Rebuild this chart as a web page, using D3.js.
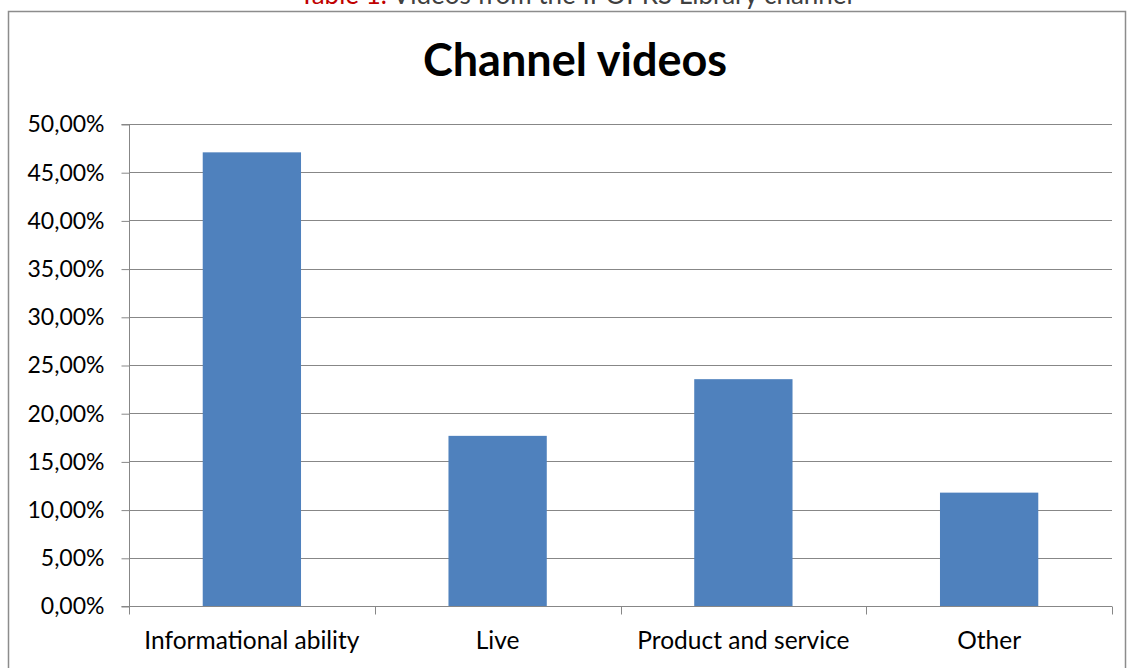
<!DOCTYPE html>
<html><head><meta charset="utf-8">
<script src="https://cdn.jsdelivr.net/npm/d3@7"></script>
<style>body{margin:0;background:#fff}svg{display:block}</style>
</head><body>
<svg id="c" width="1132" height="668"></svg>
<script>
const categories = ["Informational ability", "Live", "Product and service", "Other"];
const values = [47.06, 17.65, 23.53, 11.76];
const yTicks = [0, 5, 10, 15, 20, 25, 30, 35, 40, 45, 50];
const title = "Channel videos";
const captionRed = "Table 1.";
const captionRest = " Videos from the IPOPRS Library channel";

const svg = d3.select("#c");
const font = "Lato, 'Open Sans', sans-serif";
const L = 129, R = 1112, T = 124, B = 606;

// caption
const cap = svg.append("text").attr("x", 576).attr("y", 4).attr("text-anchor", "middle")
  .attr("font-family", font).attr("font-size", 26).attr("font-weight", 400);
cap.append("tspan").attr("fill", "#c00000").text(captionRed);
cap.append("tspan").attr("fill", "#404040").text(captionRest);

// frame
svg.append("path").attr("d", `M8.5,668 V11.5 H1125.5 V668`).attr("fill", "none")
  .attr("stroke", "#8c8c8c").attr("stroke-width", 1.5);

svg.append("text").attr("x", 575).attr("y", 76).attr("text-anchor", "middle")
  .attr("font-family", font).attr("font-size", 45).attr("font-weight", 700).attr("fill", "#000")
  .text(title);

const x = d3.scaleBand().domain(categories).range([L, R]).paddingInner(0.6).paddingOuter(0.3);
const y = d3.scaleLinear().domain([0, 50]).range([B, T]);

// gridlines
svg.append("g").selectAll("line").data(yTicks.filter(d => d > 0)).join("line")
  .attr("x1", L).attr("x2", R).attr("y1", d => Math.round(y(d)) + 0.5).attr("y2", d => Math.round(y(d)) + 0.5)
  .attr("stroke", "#878787").attr("stroke-width", 1);

// bars
svg.append("g").selectAll("rect").data(values).join("rect")
  .attr("x", (d, i) => x(categories[i])).attr("width", x.bandwidth())
  .attr("y", d => y(d)).attr("height", d => B - y(d))
  .attr("fill", "#4f81bd");

// y axis
const yAxis = d3.axisLeft(y).tickValues(yTicks).tickSize(8).tickPadding(17)
  .tickFormat(d => d.toFixed(2).replace(".", ",") + "%");
const gy = svg.append("g").attr("transform", `translate(${L + 0.5},0.5)`).call(yAxis);
gy.selectAll("text").attr("font-family", font).attr("font-size", 23).attr("fill", "#000");
gy.selectAll("line,path").attr("stroke", "#878787");
gy.select(".domain").attr("d", `M-8,${y(50)}H0V${B}H-8`);

// x axis
const xOuter = d3.scaleLinear().domain([0, 4]).range([L, R]);
const gx = svg.append("g").attr("transform", `translate(0,${B + 0.5})`);
gx.append("line").attr("x1", L).attr("x2", R).attr("stroke", "#878787");
gx.selectAll("line.t").data(d3.range(5)).join("line").attr("class", "t")
  .attr("x1", d => Math.round(xOuter(d)) + 0.5).attr("x2", d => Math.round(xOuter(d)) + 0.5)
  .attr("y1", 0).attr("y2", 8).attr("stroke", "#878787");
gx.selectAll("text").data(categories).join("text")
  .attr("x", d => x(d) + x.bandwidth() / 2).attr("y", 42).attr("text-anchor", "middle")
  .attr("font-family", font).attr("font-size", 24.5).attr("fill", "#000").text(d => d);
</script>
</body></html>
